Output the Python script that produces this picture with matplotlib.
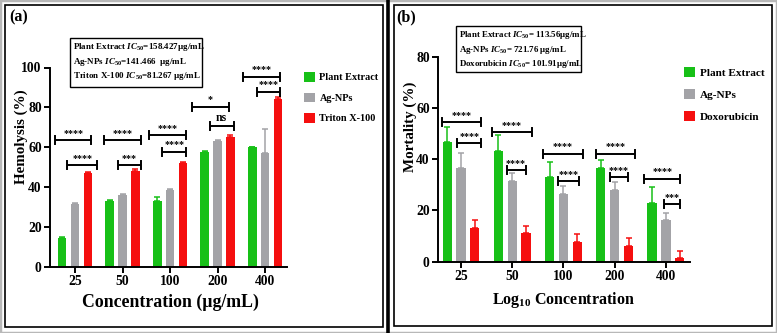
import matplotlib
matplotlib.use("Agg")
import matplotlib.pyplot as plt
from matplotlib.patches import Rectangle
from matplotlib.lines import Line2D
import numpy as np

# ---------------- data ----------------
categories = ["25", "50", "100", "200", "400"]

# Panel (a): hemolysis (%)
hemo_series = ["Plant Extract", "Ag-NPs", "Triton X-100"]
hemo_plant = [14.3, 33.0, 33.0, 57.5, 60.0]
hemo_agnps = [31.5, 36.0, 38.5, 63.2, 57.0]
hemo_triton = [47.0, 48.1, 52.0, 65.3, 84.2]
hemo_plant_err = [0.6, 0.8, 2.0, 0.5, 0.3]
hemo_agnps_err = [0.8, 0.8, 0.8, 0.4, 12.2]
hemo_triton_err = [0.5, 1.0, 0.5, 0.8, 0.8]
hemo_sig_outer = ["****", "****", "****", "*", "****"]
hemo_sig_outer_y = [63.7, 63.7, 66.2, 80.4, 95.4]
hemo_sig_inner = ["****", "***", "****", "ns", "****"]
hemo_sig_inner_y = [51.1, 51.1, 57.8, 70.7, 87.9]
hemo_ic50 = ["Plant Extract $\\mathit{IC}_{\\mathit{50}}$=158.427\u00b5g/mL",
             "Ag-NPs $\\mathit{IC}_{\\mathit{50}}$=141.466  \u00b5g/mL",
             "Triton X-100 $\\mathit{IC}_{\\mathit{50}}$=81.267 \u00b5g/mL"]

# Panel (b): mortality (%)
mort_series = ["Plant Extract", "Ag-NPs", "Doxorubicin"]
mort_plant = [46.7, 43.1, 33.1, 36.6, 23.1]
mort_agnps = [36.6, 31.6, 26.5, 28.1, 16.4]
mort_doxo = [13.1, 11.1, 7.8, 6.2, 1.3]
mort_plant_err = [6.0, 6.2, 5.9, 2.9, 5.9]
mort_agnps_err = [5.9, 3.1, 2.9, 3.0, 2.8]
mort_doxo_err = [3.0, 3.0, 3.1, 3.0, 2.9]
mort_sig_outer = ["****", "****", "****", "****", "****"]
mort_sig_outer_y = [54.5, 50.6, 42.1, 42.1, 32.4]
mort_sig_inner = ["****", "****", "****", "****", "***"]
mort_sig_inner_y = [46.2, 35.7, 31.4, 33.1, 22.5]
mort_ic50 = ["Plant Extract $\\mathit{IC}_{\\mathit{50}}$= 113.56\u00b5g/mL",
             "Ag-NPs $\\mathit{IC}_{\\mathit{50}}$= 721.76 \u00b5g/mL",
             "Doxorubicin $\\mathit{IC}_{\\mathit{50}}$= 101.91\u00b5g/mL"]

# ---------------- layout / style ----------------
GREEN = "#17c017"
GRAY = "#a3a3a7"
RED = "#f50f0f"
FONT = "Liberation Serif"

# bracket spans relative to group centre (layout only)
hemo_outer_span = [(-0.42, 0.34), (-0.39, 0.39), (-0.44, 0.34), (-0.54, 0.23), (-0.46, 0.32)]
hemo_inner_span = [(-0.16, 0.46), (-0.10, 0.39), (-0.16, 0.34), (-0.17, 0.34), (-0.17, 0.32)]
mort_outer_span = [(-0.37, 0.40), (-0.40, 0.38), (-0.40, 0.38), (-0.36, 0.40), (-0.42, 0.27)]
mort_inner_span = [(-0.08, 0.40), (-0.11, 0.26), (-0.10, 0.31), (-0.10, 0.26), (-0.04, 0.27)]

plt.rcParams["font.family"] = [FONT, "DejaVu Sans"]
plt.rcParams["font.weight"] = "bold"
plt.rcParams["mathtext.fontset"] = "custom"
plt.rcParams["mathtext.rm"] = "Liberation Serif:bold"
plt.rcParams["mathtext.it"] = "Liberation Serif:italic:bold"
plt.rcParams["mathtext.bf"] = "Liberation Serif:bold"

W, H = 777, 333
fig = plt.figure(figsize=(W / 100, H / 100), dpi=100)


def fx(px):
    return px / W


def fy(py):
    return 1 - py / H


def draw_bracket(ax, x0, x1, y, label, cap, lbl_off, fs):
    ax.plot([x0, x1], [y, y], color="black", lw=1.4, solid_capstyle="butt", clip_on=False)
    for xx in (x0, x1):
        ax.plot([xx, xx], [y - cap, y + cap], color="black", lw=1.4, clip_on=False)
    ax.text((x0 + x1) / 2, y + lbl_off, label, ha="center", va="bottom",
            fontsize=fs, fontweight="bold", clip_on=False)


def panel(rect, xlim, ylim, yticks, values, errs, colors, names,
          outer_y, outer_lbl, outer_span, inner_y, inner_lbl, inner_span,
          cap, lbl_off):
    ax = fig.add_axes(rect)
    x = np.arange(len(categories))
    offs = [-0.27, 0.0, 0.27]
    handles = []
    for v, e, c, n, o in zip(values, errs, colors, names, offs):
        b = ax.bar(x + o, v, width=0.18, color=c, label=n,
                   yerr=[np.zeros(len(e)), e],
                   error_kw=dict(ecolor=c, elinewidth=1.1, capsize=2.2, capthick=1.1))
        handles.append(b)
    for i in range(len(categories)):
        draw_bracket(ax, i + outer_span[i][0], i + outer_span[i][1], outer_y[i],
                     outer_lbl[i], cap, lbl_off, 7.2)
        draw_bracket(ax, i + inner_span[i][0], i + inner_span[i][1], inner_y[i],
                     inner_lbl[i], cap, lbl_off, 7.2 if inner_lbl[i] != "ns" else 8.5)
    ax.set_xlim(*xlim)
    ax.set_ylim(*ylim)
    ax.set_xticks(x)
    ax.set_xticklabels(categories)
    ax.set_yticks(yticks)
    for s in ("top", "right"):
        ax.spines[s].set_visible(False)
    for s in ("left", "bottom"):
        ax.spines[s].set_linewidth(1.4)
    ax.tick_params(axis="both", length=4, width=1.4, labelsize=9.8, pad=2)
    for t in ax.get_xticklabels() + ax.get_yticklabels():
        t.set_fontweight("bold")
    return ax, handles


# ---- panel (a)
axA, hA = panel([fx(50), fy(267), fx(287) - fx(50), fy(67.5) - fy(267)],
                (-0.526, 4.46), (0, 100), [0, 20, 40, 60, 80, 100],
                [hemo_plant, hemo_agnps, hemo_triton],
                [hemo_plant_err, hemo_agnps_err, hemo_triton_err],
                [GREEN, GRAY, RED], hemo_series,
                hemo_sig_outer_y, hemo_sig_outer, hemo_outer_span,
                hemo_sig_inner_y, hemo_sig_inner, hemo_inner_span,
                cap=2.0, lbl_off=1.2)
axA.legend(handles=hA, loc="upper left", bbox_to_anchor=(fx(304), fy(72)),
           bbox_transform=fig.transFigure, frameon=False, fontsize=7.4,
           handlelength=1.05, handleheight=1.05, handletextpad=0.45,
           labelspacing=1.0, borderpad=0, borderaxespad=0)

# ---- panel (b)
axB, hB = panel([fx(438), fy(261.7), fx(690) - fx(438), fy(56.7) - fy(261.7)],
                (-0.449, 4.47), (0, 80), [0, 20, 40, 60, 80],
                [mort_plant, mort_agnps, mort_doxo],
                [mort_plant_err, mort_agnps_err, mort_doxo_err],
                [GREEN, GRAY, RED], mort_series,
                mort_sig_outer_y, mort_sig_outer, mort_outer_span,
                mort_sig_inner_y, mort_sig_inner, mort_inner_span,
                cap=1.5, lbl_off=0.9)
axB.legend(handles=hB, loc="upper left", bbox_to_anchor=(fx(684), fy(67)),
           bbox_transform=fig.transFigure, frameon=False, fontsize=8.1,
           handlelength=1.0, handleheight=1.0, handletextpad=0.45,
           labelspacing=1.0, borderpad=0, borderaxespad=0)

# ---- labels
fig.text(fx(21), fy(137), "Hemolysis (%)", rotation=90, ha="center", va="center",
         fontsize=10.8, fontweight="bold")
fig.text(fx(170), fy(302), "Concentration (\u00b5g/mL)", ha="center", va="center",
         fontsize=12.8, fontweight="bold")
fig.text(fx(410), fy(127), "Mortality (%)", rotation=90, ha="center", va="center",
         fontsize=10.8, fontweight="bold")
fig.text(fx(563), fy(300), "Log$_{10}$ Concentration", ha="center", va="center",
         fontsize=11.5, fontweight="bold")
fig.text(fx(9), fy(17), "(a)", ha="left", va="center", fontsize=11.5, fontweight="bold")
fig.text(fx(396), fy(17), "(b)", ha="left", va="center", fontsize=11.5, fontweight="bold")

# ---- IC50 boxes
fig.add_artist(Rectangle((fx(70), fy(87)), fx(202) - fx(70), fy(38) - fy(87),
                         transform=fig.transFigure, fill=False, ec="black", lw=1.0))
for k, s in enumerate(hemo_ic50):
    fig.text(fx(73), fy(47 + 14.5 * k), s, ha="left", va="center", fontsize=6.5,
             fontweight="bold")
fig.add_artist(Rectangle((fx(456), fy(72)), fx(581) - fx(456), fy(26) - fy(72),
                         transform=fig.transFigure, fill=False, ec="black", lw=1.0))
for k, s in enumerate(mort_ic50):
    fig.text(fx(459), fy(35 + 14.5 * k), s, ha="left", va="center", fontsize=6.4,
             fontweight="bold")

# ---- frames
fig.add_artist(Rectangle((0, 0), 1, 1, transform=fig.transFigure, fill=False,
                         ec="#b8b8b8", lw=2.5))
fig.add_artist(Rectangle((fx(4.5), fy(327)), fx(383) - fx(4.5), fy(4.5) - fy(327),
                         transform=fig.transFigure, fill=False, ec="black", lw=1.2))
fig.add_artist(Rectangle((fx(394), fy(326)), fx(772) - fx(394), fy(4.5) - fy(326),
                         transform=fig.transFigure, fill=False, ec="black", lw=1.2))
fig.add_artist(Line2D([fx(388)] * 2, [0, 1], transform=fig.transFigure,
                      color="black", lw=2.6))

fig.savefig("out.png", dpi=100)
